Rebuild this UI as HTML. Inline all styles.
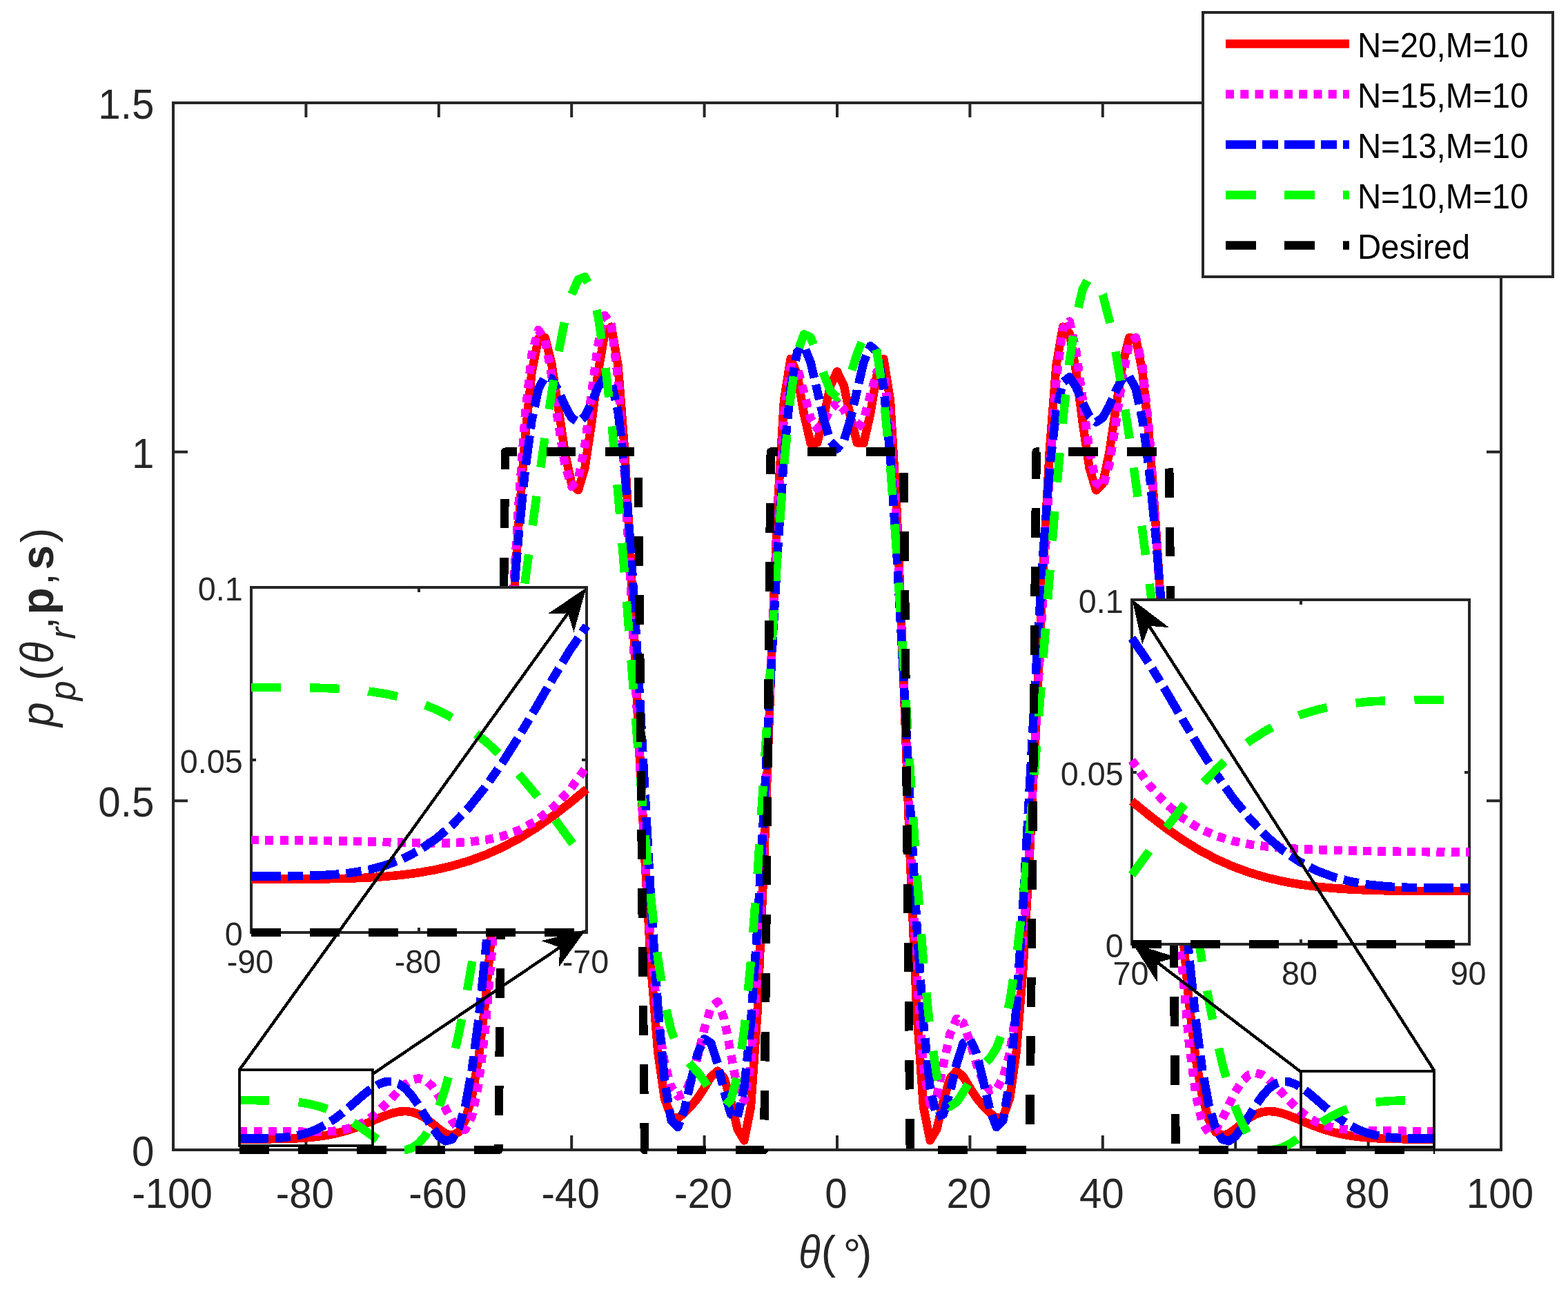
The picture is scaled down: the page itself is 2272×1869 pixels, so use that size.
<!DOCTYPE html>
<html lang="en"><head><meta charset="utf-8"><title>Beampattern comparison</title>
<style>html,body{margin:0;padding:0;background:#fff;overflow:hidden}svg{display:block}text{font-family:"Liberation Sans",Arial,Helvetica,sans-serif}</style></head><body>
<svg width="2272" height="1869" viewBox="0 0 2272 1869">
<rect x="0" y="0" width="2272" height="1869" fill="#ffffff"/>
<clipPath id="cm"><rect x="238.5" y="136.5" width="1949.0" height="1542.0"/></clipPath>
<g id="main-axes">
<path d="M251.00 1666.0 V1645.0 M251.00 149.0 V170.0 M443.40 1666.0 V1645.0 M443.40 149.0 V170.0 M635.80 1666.0 V1645.0 M635.80 149.0 V170.0 M828.20 1666.0 V1645.0 M828.20 149.0 V170.0 M1020.60 1666.0 V1645.0 M1020.60 149.0 V170.0 M1213.00 1666.0 V1645.0 M1213.00 149.0 V170.0 M1405.40 1666.0 V1645.0 M1405.40 149.0 V170.0 M1597.80 1666.0 V1645.0 M1597.80 149.0 V170.0 M1790.20 1666.0 V1645.0 M1790.20 149.0 V170.0 M1982.60 1666.0 V1645.0 M1982.60 149.0 V170.0 M2175.00 1666.0 V1645.0 M2175.00 149.0 V170.0 M251.0 1666.00 H272.0 M2175.0 1666.00 H2154.0 M251.0 1160.33 H272.0 M2175.0 1160.33 H2154.0 M251.0 654.67 H272.0 M2175.0 654.67 H2154.0 M251.0 149.00 H272.0 M2175.0 149.00 H2154.0" stroke="#262626" stroke-width="4" fill="none"/><rect x="251.0" y="149.0" width="1924.0" height="1517.0" fill="none" stroke="#262626" stroke-width="4"/>
<text transform="translate(249.50 1750.30) scale(1 1.045)" font-size="58.3" fill="#262626" text-anchor="middle">-100</text>
<text transform="translate(441.90 1750.30) scale(1 1.045)" font-size="58.3" fill="#262626" text-anchor="middle">-80</text>
<text transform="translate(634.30 1750.30) scale(1 1.045)" font-size="58.3" fill="#262626" text-anchor="middle">-60</text>
<text transform="translate(826.70 1750.30) scale(1 1.045)" font-size="58.3" fill="#262626" text-anchor="middle">-40</text>
<text transform="translate(1019.10 1750.30) scale(1 1.045)" font-size="58.3" fill="#262626" text-anchor="middle">-20</text>
<text transform="translate(1211.50 1750.30) scale(1 1.045)" font-size="58.3" fill="#262626" text-anchor="middle">0</text>
<text transform="translate(1403.90 1750.30) scale(1 1.045)" font-size="58.3" fill="#262626" text-anchor="middle">20</text>
<text transform="translate(1596.30 1750.30) scale(1 1.045)" font-size="58.3" fill="#262626" text-anchor="middle">40</text>
<text transform="translate(1788.70 1750.30) scale(1 1.045)" font-size="58.3" fill="#262626" text-anchor="middle">60</text>
<text transform="translate(1981.10 1750.30) scale(1 1.045)" font-size="58.3" fill="#262626" text-anchor="middle">80</text>
<text transform="translate(2173.50 1750.30) scale(1 1.045)" font-size="58.3" fill="#262626" text-anchor="middle">100</text>
<text transform="translate(223.30 1688.90) scale(1 1.045)" font-size="58.3" fill="#262626" text-anchor="end">0</text>
<text transform="translate(223.30 1183.23) scale(1 1.045)" font-size="58.3" fill="#262626" text-anchor="end">0.5</text>
<text transform="translate(223.30 677.57) scale(1 1.045)" font-size="58.3" fill="#262626" text-anchor="end">1</text>
<text transform="translate(223.30 171.90) scale(1 1.045)" font-size="58.3" fill="#262626" text-anchor="end">1.5</text>
</g>
<g id="main-curves" clip-path="url(#cm)" shape-rendering="crispEdges">
<polyline points="347.20,1650.37 356.82,1650.37 366.44,1650.37 376.06,1650.36 385.68,1650.32 395.30,1650.25 404.92,1650.12 414.54,1649.91 424.16,1649.59 433.78,1649.12 443.40,1648.47 453.02,1647.60 462.64,1646.46 472.26,1645.00 481.88,1643.20 491.50,1640.99 501.12,1638.37 510.74,1635.31 520.36,1631.85 529.98,1628.04 539.60,1624.00 549.22,1619.93 558.84,1616.11 568.46,1612.88 578.08,1610.68 587.70,1609.98 597.32,1611.18 606.94,1614.58 616.56,1620.18 626.18,1627.53 635.80,1635.53 645.42,1642.30 655.04,1645.03 664.66,1640.01 674.28,1622.79 683.90,1588.58 693.52,1532.89 703.14,1452.39 712.76,1345.98 722.38,1215.74 732.00,1067.70 741.62,912.00 751.24,762.17 760.86,633.39 770.48,539.71 780.10,490.84 789.72,489.07 799.34,527.47 808.96,590.19 818.58,655.50 828.20,701.05 837.82,710.31 847.44,678.18 857.06,613.75 866.68,538.95 876.30,482.91 885.92,473.62 895.54,529.44 905.16,653.20 914.78,831.00 924.40,1036.07 934.02,1236.56 943.64,1404.58 953.26,1523.52 962.88,1591.25 972.50,1618.03 982.12,1620.18 991.74,1612.40 1001.36,1602.46 1010.98,1590.95 1020.60,1576.06 1030.22,1559.96 1039.84,1551.57 1049.46,1562.18 1059.08,1595.15 1068.70,1636.17 1078.32,1652.32 1087.94,1603.97 1097.56,1465.57 1107.18,1243.82 1116.80,981.42 1126.42,741.55 1136.04,580.03 1145.66,519.84 1155.28,542.34 1164.90,599.83 1174.52,642.00 1184.14,641.27 1193.76,603.28 1203.38,558.08 1213.00,538.40 1222.62,558.08 1232.24,603.28 1241.86,641.27 1251.48,642.00 1261.10,599.83 1270.72,542.34 1280.34,519.84 1289.96,580.03 1299.58,741.55 1309.20,981.42 1318.82,1243.82 1328.44,1465.57 1338.06,1603.97 1347.68,1652.32 1357.30,1636.17 1366.92,1595.15 1376.54,1562.18 1386.16,1551.57 1395.78,1559.96 1405.40,1576.06 1415.02,1590.95 1424.64,1602.46 1434.26,1612.40 1443.88,1620.18 1453.50,1618.03 1463.12,1591.25 1472.74,1523.52 1482.36,1404.58 1491.98,1236.56 1501.60,1036.07 1511.22,831.00 1520.84,653.20 1530.46,529.44 1540.08,473.62 1549.70,482.91 1559.32,538.95 1568.94,613.75 1578.56,678.18 1588.18,710.31 1597.80,701.05 1607.42,655.50 1617.04,590.19 1626.66,527.47 1636.28,489.07 1645.90,490.84 1655.52,539.71 1665.14,633.39 1674.76,762.17 1684.38,912.00 1694.00,1067.70 1703.62,1215.74 1713.24,1345.98 1722.86,1452.39 1732.48,1532.89 1742.10,1588.58 1751.72,1622.79 1761.34,1640.01 1770.96,1645.03 1780.58,1642.30 1790.20,1635.53 1799.82,1627.53 1809.44,1620.18 1819.06,1614.58 1828.68,1611.18 1838.30,1609.98 1847.92,1610.68 1857.54,1612.88 1867.16,1616.11 1876.78,1619.93 1886.40,1624.00 1896.02,1628.04 1905.64,1631.85 1915.26,1635.31 1924.88,1638.37 1934.50,1640.99 1944.12,1643.20 1953.74,1645.00 1963.36,1646.46 1972.98,1647.60 1982.60,1648.47 1992.22,1649.12 2001.84,1649.59 2011.46,1649.91 2021.08,1650.12 2030.70,1650.25 2040.32,1650.32 2049.94,1650.36 2059.56,1650.37 2069.18,1650.37 2078.80,1650.37" fill="none" stroke="#ff0000" stroke-width="12.5" stroke-linejoin="round" stroke-linecap="butt"/>
<path d="M347.2 1638.9 L356.8 1639.0 L358.2 1639.0 M367.6 1639.0 L376.1 1639.0 L379.6 1639.0 M388.9 1639.1 L395.3 1639.2 L401.0 1639.2 M410.3 1639.3 L414.5 1639.4 L422.4 1639.5 M431.8 1639.6 L433.8 1639.7 L443.4 1639.8 L444.0 1639.8 M453.4 1639.8 L462.6 1639.7 L465.5 1639.7 M474.9 1639.3 L481.9 1638.9 L487.0 1638.3 M496.3 1636.9 L501.1 1636.0 L508.0 1634.0 M516.9 1630.8 L520.4 1629.4 L527.7 1625.4 M535.5 1620.3 L539.6 1617.5 L545.1 1612.8 M552.0 1606.6 L558.8 1599.9 L560.6 1598.1 M567.1 1591.3 L568.5 1589.8 L575.4 1582.5 M582.2 1576.0 L587.7 1570.9 L591.5 1568.4 M599.7 1564.0 L606.9 1562.3 L611.4 1563.6 M619.6 1567.8 L626.2 1573.8 L628.0 1576.4 M633.2 1584.2 L635.8 1587.9 L639.4 1594.5 M643.8 1602.7 L645.4 1605.7 L649.5 1613.4 M653.9 1621.6 L655.0 1623.6 L661.0 1631.4 M668.0 1636.3 L674.3 1636.6 L676.8 1631.4 M681.0 1623.0 L683.9 1617.1 L685.0 1611.8 M686.9 1602.7 L689.3 1590.9 M691.2 1581.8 L693.5 1570.3 L693.6 1570.0 M694.7 1560.8 L696.1 1548.8 M697.3 1539.6 L698.7 1527.7 M699.8 1518.5 L701.3 1506.5 M702.4 1497.3 L703.1 1491.2 L703.6 1485.4 M704.4 1476.1 L705.4 1464.1 M706.2 1454.9 L707.2 1442.9 M708.0 1433.6 L709.0 1421.7 M709.8 1412.4 L710.8 1400.5 M711.6 1391.2 L712.6 1379.2 M713.3 1370.0 L714.1 1358.0 M714.7 1348.7 L715.5 1336.7 M716.1 1327.5 L716.9 1315.5 M717.5 1306.2 L718.3 1294.2 M719.0 1285.0 L719.8 1273.0 M720.4 1263.7 L721.2 1251.7 M721.8 1242.5 L722.4 1233.9 L722.6 1230.5 M723.1 1221.2 L723.8 1209.2 M724.4 1199.9 L725.0 1188.0 M725.6 1178.7 L726.3 1166.7 M726.8 1157.4 L727.5 1145.4 M728.1 1136.2 L728.8 1124.2 M729.3 1114.9 L730.0 1102.9 M730.5 1093.7 L731.2 1081.7 M731.8 1072.4 L732.0 1068.4 L732.4 1060.4 M733.0 1051.1 L733.6 1039.1 M734.1 1029.9 L734.8 1017.9 M735.3 1008.6 L736.0 996.6 M736.5 987.4 L737.2 975.4 M737.7 966.1 L738.4 954.1 M738.9 944.8 L739.6 932.8 M740.1 923.6 L740.7 911.6 M741.3 902.3 L741.6 895.8 L741.9 890.3 M742.5 881.0 L743.2 869.1 M743.8 859.8 L744.5 847.8 M745.0 838.5 L745.7 826.5 M746.3 817.3 L747.0 805.3 M747.6 796.0 L748.3 784.0 M748.8 774.8 L749.5 762.8 M750.1 753.5 L750.8 741.5 M751.4 732.2 L752.2 720.3 M752.9 711.0 L753.8 699.0 M754.5 689.8 L755.3 677.8 M756.0 668.5 L756.9 656.5 M757.6 647.3 L758.4 635.3 M759.1 626.0 L760.0 614.1 M760.6 604.8 L760.9 601.8 L761.8 592.9 M762.8 583.7 L764.1 571.8 M765.2 562.5 L766.5 550.6 M767.5 541.4 L768.8 529.5 M769.8 520.3 L770.5 513.8 L771.8 508.8 M774.1 500.2 L777.1 489.1 M779.4 480.5 L780.1 478.1 L785.2 485.6 M789.9 493.2 L792.1 505.1 M793.8 514.2 L796.0 526.0 M797.7 535.2 L799.3 544.2 L799.7 547.0 M801.0 556.2 L802.7 568.1 M804.0 577.2 L805.6 589.1 M806.9 598.3 L808.6 610.1 M810.0 619.3 L811.9 631.1 M813.3 640.2 L815.2 652.1 M816.6 661.2 L818.5 673.0 M821.1 681.9 L824.6 693.3 M827.3 702.1 L828.2 705.0 L834.4 698.7 M838.6 690.9 L840.9 679.2 M842.6 670.1 L844.9 658.4 M846.6 649.3 L847.4 645.2 L848.4 637.4 M849.6 628.3 L851.2 616.4 M852.4 607.2 L853.9 595.3 M855.1 586.1 L856.6 574.3 M857.8 565.1 L859.4 553.2 M860.6 544.1 L862.2 532.2 M863.4 523.1 L865.0 511.2 M866.2 502.1 L866.7 498.4 L868.5 490.4 M870.6 481.5 L873.3 469.9 M875.4 460.9 L876.3 457.0 L880.6 463.0 M885.6 470.0 L885.9 470.5 L887.3 481.5 M888.4 490.6 L889.8 502.2 M890.9 511.3 L892.3 523.0 M893.4 532.0 L894.8 543.7 M895.8 552.8 L896.6 564.8 M897.2 574.0 L898.1 586.0 M898.7 595.3 L899.5 607.3 M900.2 616.5 L901.0 628.5 M901.6 637.8 L902.5 649.7 M903.1 659.0 L903.9 671.0 M904.6 680.3 L905.2 688.7 L905.3 692.2 M905.8 701.5 L906.5 713.5 M907.0 722.8 L907.6 734.8 M908.1 744.0 L908.8 756.0 M909.3 765.3 L909.9 777.3 M910.4 786.6 L911.1 798.6 M911.6 807.8 L912.2 819.8 M912.7 829.1 L913.4 841.1 M913.8 850.3 L914.5 862.3 M915.0 871.6 L915.6 883.6 M916.1 892.9 L916.7 904.9 M917.1 914.1 L917.7 926.1 M918.2 935.4 L918.8 947.4 M919.3 956.7 L919.9 968.7 M920.3 977.9 L920.9 989.9 M921.4 999.2 L922.0 1011.2 M922.5 1020.5 L923.1 1032.5 M923.6 1041.7 L924.2 1053.7 M924.6 1063.0 L925.3 1075.0 M925.8 1084.3 L926.5 1096.2 M927.0 1105.5 L927.6 1117.5 M928.1 1126.8 L928.8 1138.8 M929.3 1148.0 L930.0 1160.0 M930.5 1169.3 L931.1 1181.3 M931.6 1190.6 L932.3 1202.5 M932.8 1211.8 L933.5 1223.8 M934.0 1233.1 L934.0 1234.1 L934.8 1245.1 M935.4 1254.3 L936.2 1266.3 M936.8 1275.6 L937.6 1287.6 M938.3 1296.8 L939.1 1308.8 M939.7 1318.1 L940.5 1330.0 M941.2 1339.3 L942.0 1351.3 M942.6 1360.6 L943.4 1372.5 M944.2 1381.8 L945.4 1393.8 M946.2 1403.0 L947.4 1415.0 M948.3 1424.2 L949.4 1436.2 M950.3 1445.4 L951.4 1457.4 M952.3 1466.6 L953.3 1476.7 L953.5 1478.6 M954.9 1487.7 L956.7 1499.5 M958.1 1508.6 L959.9 1520.4 M961.3 1529.5 L962.9 1540.2 L963.2 1541.3 M965.6 1549.9 L968.7 1561.2 M971.1 1569.9 L972.5 1574.8 L975.9 1579.6 M980.6 1586.1 L982.1 1588.3 L990.1 1585.2 M995.0 1577.8 L1000.2 1566.9 M1003.2 1558.1 L1006.5 1546.5 M1009.0 1537.6 L1011.0 1530.7 L1012.1 1525.9 M1014.3 1516.8 L1017.2 1505.0 M1019.3 1495.9 L1020.6 1490.7 L1022.6 1484.2 M1025.4 1475.1 L1028.9 1463.3 M1034.3 1455.8 L1039.8 1451.4 L1041.8 1456.6 M1045.3 1465.5 L1049.5 1476.3 L1049.6 1477.0 M1051.4 1486.3 L1053.7 1498.3 M1055.4 1507.6 L1057.7 1519.6 M1059.5 1528.9 L1061.7 1540.9 M1063.4 1550.2 L1065.7 1562.2 M1067.4 1571.5 L1068.7 1578.4 L1071.2 1582.7 M1075.7 1590.5 L1078.3 1595.0 L1079.5 1588.5 M1081.2 1579.4 L1083.4 1567.7 M1085.1 1558.6 L1087.3 1546.8 M1088.3 1537.6 L1089.2 1525.6 M1089.9 1516.4 L1090.7 1504.4 M1091.4 1495.1 L1092.2 1483.1 M1092.9 1473.8 L1093.8 1461.9 M1094.4 1452.6 L1095.3 1440.6 M1095.9 1431.3 L1096.8 1419.3 M1097.5 1410.1 L1097.6 1408.5 L1098.1 1398.1 M1098.5 1388.8 L1099.1 1376.8 M1099.5 1367.5 L1100.1 1355.5 M1100.5 1346.2 L1101.1 1334.2 M1101.5 1325.0 L1102.1 1313.0 M1102.5 1303.7 L1103.1 1291.7 M1103.5 1282.4 L1104.1 1270.4 M1104.5 1261.1 L1105.1 1249.1 M1105.5 1239.8 L1106.1 1227.8 M1106.5 1218.6 L1107.1 1206.6 M1107.5 1197.3 L1107.9 1185.3 M1108.3 1176.0 L1108.8 1164.0 M1109.2 1154.7 L1109.7 1142.7 M1110.1 1133.4 L1110.6 1121.4 M1110.9 1112.1 L1111.4 1100.1 M1111.8 1090.9 L1112.3 1078.9 M1112.7 1069.6 L1113.2 1057.6 M1113.5 1048.3 L1114.0 1036.3 M1114.4 1027.0 L1114.9 1015.0 M1115.3 1005.7 L1115.8 993.7 M1116.2 984.5 L1116.6 972.5 M1117.1 963.2 L1117.6 951.2 M1118.0 941.9 L1118.5 929.9 M1119.0 920.6 L1119.5 908.6 M1119.9 899.3 L1120.4 887.3 M1120.9 878.1 L1121.4 866.1 M1121.8 856.8 L1122.3 844.8 M1122.8 835.5 L1123.3 823.5 M1123.7 814.2 L1124.3 802.2 M1124.7 792.9 L1125.2 780.9 M1125.6 771.7 L1126.2 759.7 M1126.6 750.4 L1127.4 738.4 M1128.0 729.1 L1128.7 717.1 M1129.3 707.8 L1130.1 695.8 M1130.7 686.6 L1131.4 674.6 M1132.0 665.3 L1132.8 653.3 M1133.4 644.0 L1134.1 632.0 M1134.7 622.8 L1135.5 610.8 M1136.1 601.5 L1137.8 589.6 M1139.0 580.4 L1140.7 568.4 M1141.9 559.2 L1143.6 547.3 M1144.8 538.1 L1145.7 531.9 L1151.6 531.8 M1156.7 537.3 L1159.8 549.0 M1162.2 558.1 L1164.9 568.6 L1165.2 569.8 M1167.6 578.9 L1170.6 590.7 M1172.9 599.8 L1174.5 606.0 L1177.1 610.0 M1181.3 616.5 L1184.1 620.8 L1188.6 616.5 M1194.9 609.1 L1200.7 597.9 M1206.1 590.3 L1213.0 583.9 L1214.3 585.1 M1219.4 589.9 L1222.6 592.9 L1225.4 598.3 M1229.6 606.5 L1232.2 611.7 L1236.5 616.1 M1242.7 620.6 L1249.6 610.8 M1253.1 602.3 L1256.2 590.7 M1258.6 581.8 L1261.1 572.6 L1261.8 570.3 M1264.2 561.5 L1267.4 550.2 M1269.8 541.5 L1270.7 538.2 L1278.3 540.2 M1281.3 547.6 L1282.8 559.4 M1284.1 568.5 L1285.6 580.2 M1286.9 589.3 L1288.4 601.1 M1289.7 610.2 L1290.0 612.4 L1290.6 622.1 M1291.2 631.3 L1291.9 643.2 M1292.5 652.4 L1293.3 664.3 M1293.8 673.5 L1294.6 685.4 M1295.2 694.7 L1295.9 706.6 M1296.5 715.8 L1297.3 727.7 M1297.9 736.9 L1298.6 748.8 M1299.2 758.0 L1299.6 763.8 L1299.9 770.0 M1300.3 779.2 L1300.8 791.1 M1301.2 800.4 L1301.8 812.3 M1302.2 821.5 L1302.7 833.5 M1303.1 842.7 L1303.7 854.7 M1304.1 863.9 L1304.6 875.8 M1305.1 885.1 L1305.6 897.0 M1306.0 906.3 L1306.5 918.2 M1307.0 927.4 L1307.5 939.4 M1307.9 948.6 L1308.5 960.6 M1308.9 969.8 L1309.2 976.9 L1309.4 981.7 M1309.8 991.0 L1310.3 1002.9 M1310.7 1012.2 L1311.2 1024.1 M1311.5 1033.4 L1312.0 1045.3 M1312.4 1054.5 L1312.9 1066.5 M1313.3 1075.7 L1313.8 1087.7 M1314.2 1096.9 L1314.7 1108.9 M1315.0 1118.1 L1315.5 1130.1 M1315.9 1139.3 L1316.4 1151.2 M1316.8 1160.5 L1317.3 1172.4 M1317.7 1181.7 L1318.2 1193.6 M1318.6 1202.9 L1318.8 1209.3 L1319.1 1214.8 M1319.5 1224.0 L1320.1 1236.0 M1320.5 1245.2 L1321.1 1257.1 M1321.5 1266.4 L1322.1 1278.3 M1322.5 1287.6 L1323.1 1299.5 M1323.5 1308.7 L1324.1 1320.7 M1324.6 1329.9 L1325.1 1341.8 M1325.6 1351.1 L1326.1 1363.0 M1326.6 1372.2 L1327.1 1384.2 M1327.6 1393.4 L1328.1 1405.3 M1328.7 1414.6 L1329.5 1426.6 M1330.2 1435.9 L1331.0 1447.9 M1331.7 1457.1 L1332.6 1469.1 M1333.2 1478.4 L1334.1 1490.4 M1334.8 1499.7 L1335.6 1511.7 M1336.3 1521.0 L1337.1 1533.0 M1337.8 1542.3 L1338.1 1545.9 L1339.7 1554.9 M1341.4 1564.9 L1343.8 1577.9 M1345.5 1587.9 L1347.7 1600.0 L1348.5 1599.0 M1357.2 1588.5 L1357.3 1588.4 L1359.8 1576.6 M1361.7 1567.4 L1364.3 1555.5 M1366.2 1546.3 L1366.9 1543.0 L1368.7 1534.5 M1370.7 1525.4 L1373.2 1513.7 M1375.1 1504.6 L1376.5 1497.9 L1378.7 1493.1 M1382.4 1484.4 L1386.2 1475.8 L1387.6 1476.8 M1392.6 1480.2 L1395.8 1482.4 L1397.7 1487.8 M1400.6 1496.0 L1404.5 1506.7 M1407.2 1515.3 L1410.6 1526.8 M1413.2 1535.7 L1415.0 1541.7 L1417.0 1547.0 M1420.3 1555.7 L1424.5 1566.9 M1430.0 1574.2 L1434.3 1579.7 L1438.2 1579.0 M1444.9 1576.4 L1450.6 1566.4 M1454.4 1558.3 L1457.5 1546.6 M1460.0 1537.6 L1463.1 1525.9 M1464.5 1516.7 L1466.3 1504.9 M1467.7 1495.7 L1469.5 1483.8 M1470.9 1474.6 L1472.7 1462.8 L1472.7 1462.8 M1473.6 1453.5 L1474.8 1441.6 M1475.7 1432.4 L1476.8 1420.5 M1477.7 1411.2 L1478.9 1399.3 M1479.8 1390.1 L1480.9 1378.1 M1481.8 1368.9 L1482.4 1363.0 L1482.8 1357.0 M1483.4 1347.7 L1484.2 1335.8 M1484.9 1326.5 L1485.7 1314.5 M1486.3 1305.3 L1487.1 1293.3 M1487.8 1284.1 L1488.6 1272.1 M1489.2 1262.9 L1490.1 1250.9 M1490.7 1241.7 L1491.5 1229.7 M1492.1 1220.4 L1492.8 1208.5 M1493.3 1199.2 L1494.0 1187.2 M1494.5 1178.0 L1495.1 1166.0 M1495.7 1156.7 L1496.3 1144.8 M1496.8 1135.5 L1497.5 1123.5 M1498.0 1114.3 L1498.7 1102.3 M1499.2 1093.0 L1499.8 1081.1 M1500.4 1071.8 L1501.0 1059.8 M1501.5 1050.6 L1501.6 1049.4 L1502.2 1038.6 M1502.6 1029.3 L1503.2 1017.4 M1503.7 1008.1 L1504.3 996.1 M1504.8 986.9 L1505.4 974.9 M1505.9 965.6 L1506.5 953.6 M1507.0 944.4 L1507.6 932.4 M1508.1 923.1 L1508.7 911.2 M1509.1 901.9 L1509.8 889.9 M1510.2 880.7 L1510.8 868.7 M1511.3 859.4 L1512.0 847.4 M1512.5 838.2 L1513.2 826.2 M1513.7 816.9 L1514.3 805.0 M1514.8 795.7 L1515.5 783.7 M1516.0 774.5 L1516.6 762.5 M1517.2 753.2 L1517.8 741.3 M1518.3 732.0 L1519.0 720.0 M1519.5 710.8 L1520.1 698.8 M1520.7 689.5 L1520.8 686.1 L1521.4 677.6 M1522.1 668.3 L1523.0 656.4 M1523.6 647.1 L1524.5 635.2 M1525.1 625.9 L1526.0 614.0 M1526.6 604.7 L1527.5 592.7 M1528.2 583.5 L1529.0 571.5 M1529.7 562.3 L1530.5 551.1 L1530.6 550.4 M1531.7 541.4 L1533.2 529.9 M1534.3 521.0 L1535.8 509.5 M1536.9 500.6 L1538.4 489.0 M1539.6 480.1 L1540.1 476.0 L1544.2 471.6 M1549.1 466.3 L1549.7 465.6 L1552.0 476.0 M1554.0 484.9 L1556.6 496.4 M1558.6 505.3 L1559.3 508.6 L1560.5 517.1 M1561.7 526.3 L1563.3 538.2 M1564.5 547.4 L1566.1 559.2 M1567.3 568.4 L1568.9 580.3 M1570.1 589.6 L1571.7 601.5 M1573.0 610.8 L1574.5 622.8 M1575.8 632.0 L1577.4 644.0 M1578.6 653.2 L1581.1 665.1 M1582.9 674.2 L1585.4 686.1 M1587.3 695.2 L1588.2 699.7 L1594.5 704.1 M1599.3 701.1 L1602.7 689.5 M1605.2 680.5 L1607.4 672.8 L1608.1 668.7 M1609.5 659.5 L1611.4 647.5 M1612.9 638.3 L1614.7 626.4 M1616.2 617.2 L1617.0 611.8 L1618.0 605.2 M1619.3 596.0 L1621.1 584.0 M1622.4 574.8 L1624.1 562.8 M1625.5 553.6 L1626.7 545.4 L1627.4 541.7 M1629.2 532.6 L1631.6 520.9 M1633.4 511.8 L1635.8 500.1 M1641.1 493.4 L1645.9 489.1 L1647.2 494.8 M1649.6 505.1 L1652.6 518.3 M1654.9 528.5 L1655.5 531.1 L1656.5 540.7 M1657.5 550.0 L1658.7 562.0 M1659.6 571.2 L1660.9 583.2 M1661.8 592.5 L1663.1 604.5 M1664.0 613.7 L1665.1 624.8 L1665.2 625.7 M1665.9 635.0 L1666.7 646.9 M1667.3 656.2 L1668.2 668.2 M1668.8 677.4 L1669.7 689.4 M1670.3 698.7 L1671.2 710.6 M1671.8 719.9 L1672.7 731.9 M1673.3 741.1 L1674.2 753.1 M1674.8 762.3 L1675.5 774.3 M1676.1 783.6 L1676.8 795.6 M1677.3 804.8 L1678.0 816.8 M1678.5 826.1 L1679.2 838.0 M1679.8 847.3 L1680.5 859.3 M1681.0 868.6 L1681.7 880.5 M1682.3 889.8 L1683.0 901.8 M1683.5 911.0 L1684.2 923.0 M1684.7 932.3 L1685.4 944.3 M1685.9 953.5 L1686.6 965.5 M1687.1 974.8 L1687.8 986.8 M1688.3 996.0 L1689.0 1008.0 M1689.5 1017.3 L1690.1 1029.3 M1690.7 1038.5 L1691.3 1050.5 M1691.8 1059.8 L1692.5 1071.8 M1693.0 1081.0 L1693.7 1093.0 M1694.2 1102.3 L1694.9 1114.2 M1695.5 1123.5 L1696.2 1135.5 M1696.7 1144.8 L1697.4 1156.7 M1698.0 1166.0 L1698.7 1178.0 M1699.2 1187.2 L1699.9 1199.2 M1700.5 1208.5 L1701.2 1220.5 M1701.7 1229.7 L1702.4 1241.7 M1703.0 1251.0 L1703.6 1262.2 L1703.7 1262.9 M1704.3 1272.2 L1705.1 1284.2 M1705.8 1293.4 L1706.6 1305.4 M1707.2 1314.7 L1708.0 1326.6 M1708.7 1335.9 L1709.5 1347.9 M1710.1 1357.1 L1710.9 1369.1 M1711.6 1378.4 L1712.4 1390.3 M1713.0 1399.6 L1713.2 1402.7 L1714.0 1411.5 M1714.8 1420.8 L1715.9 1432.7 M1716.7 1442.0 L1717.8 1453.9 M1718.6 1463.2 L1719.7 1475.1 M1720.5 1484.4 L1721.5 1496.3 M1722.4 1505.6 L1722.9 1511.3 L1723.7 1517.5 M1724.9 1526.7 L1726.4 1538.6 M1727.6 1547.8 L1729.2 1559.7 M1730.4 1568.9 L1731.9 1580.8 M1733.6 1589.9 L1736.3 1601.6 M1738.4 1610.7 L1741.1 1622.3 M1744.7 1630.7 L1751.3 1640.8 M1759.4 1637.8 L1761.3 1636.9 L1766.5 1628.5 M1771.2 1620.5 L1776.4 1609.7 M1780.4 1601.3 L1780.6 1600.9 L1785.7 1590.6 M1789.8 1582.2 L1790.2 1581.5 L1796.2 1572.1 M1801.7 1564.7 L1809.4 1557.4 L1810.8 1557.0 M1819.7 1554.6 L1828.7 1557.0 L1830.9 1558.5 M1838.5 1563.8 L1847.2 1572.1 M1853.5 1578.9 L1857.5 1583.2 L1861.6 1587.7 M1867.9 1594.5 L1876.3 1603.1 M1883.3 1609.2 L1886.4 1612.0 L1892.7 1616.6 M1900.5 1621.7 L1905.6 1624.7 L1911.2 1627.1 M1919.8 1630.4 L1924.9 1632.0 L1931.4 1633.5 M1940.5 1635.1 L1944.1 1635.7 L1952.4 1636.6 M1961.7 1637.2 L1963.4 1637.3 L1973.0 1637.8 L1973.7 1637.8 M1983.0 1638.1 L1992.2 1638.3 L1995.0 1638.3 M2004.2 1638.4 L2011.5 1638.5 L2016.3 1638.6 M2025.6 1638.7 L2030.7 1638.7 L2037.6 1638.8 M2046.9 1638.8 L2049.9 1638.9 L2058.9 1638.9 M2068.2 1638.9 L2069.2 1638.9 L2078.8 1638.9" fill="none" stroke="#ff00ff" stroke-width="12.5" stroke-linejoin="round" stroke-linecap="butt"/>
<path d="M347.2 1649.5 L356.8 1649.5 L366.4 1649.5 L376.1 1649.4 L385.7 1649.3 L389.2 1649.2 M399.0 1648.8 L404.9 1648.5 L414.5 1647.6 L420.8 1646.8 M430.5 1645.1 L433.8 1644.5 L443.4 1642.0 L453.0 1638.6 L462.6 1634.4 L470.4 1630.3 M478.9 1625.0 L481.9 1623.1 L491.5 1616.1 L496.8 1611.8 M504.5 1605.4 L510.7 1599.9 L520.4 1591.5 L530.0 1583.3 L537.3 1577.9 M545.7 1572.6 L549.2 1570.6 L558.8 1567.3 L566.9 1567.1 M576.5 1569.8 L578.1 1570.3 L587.7 1577.4 L597.3 1588.2 L605.7 1600.3 M611.0 1608.7 L616.6 1617.8 L622.7 1627.7 M628.2 1636.1 L635.8 1646.4 L645.4 1653.3 L655.0 1650.6 L659.2 1643.6 M664.4 1635.1 L664.7 1634.6 L670.8 1613.7 M673.6 1604.1 L674.3 1601.7 L681.6 1562.1 M683.4 1552.3 L683.9 1549.4 L686.4 1530.3 M687.7 1520.3 L693.3 1477.9 M694.4 1468.0 L696.7 1445.9 M697.7 1435.9 L702.1 1393.4 M703.1 1383.4 L705.1 1361.3 M705.9 1351.3 L709.7 1308.7 M710.5 1298.7 L712.4 1276.6 M713.3 1266.6 L716.6 1224.0 M717.4 1214.0 L719.1 1191.8 M719.9 1181.8 L722.4 1149.9 L723.2 1139.2 M723.9 1129.2 L725.6 1107.0 M726.3 1097.1 L729.5 1054.4 M730.3 1044.5 L731.9 1022.3 M732.7 1012.3 L735.9 969.7 M736.7 959.7 L738.4 937.5 M739.1 927.5 L741.6 894.5 L742.4 884.9 M743.3 874.9 L745.1 852.7 M745.9 842.8 L749.5 800.2 M750.3 790.2 L751.2 778.8 L752.3 768.0 M753.3 758.1 L757.5 715.5 M758.5 705.6 L760.7 683.4 M762.0 673.5 L767.6 631.1 M768.9 621.2 L770.5 609.2 L772.6 599.3 M774.7 589.5 L780.1 564.0 L787.8 549.1 M795.2 547.1 L799.3 548.4 L808.0 564.1 M812.2 573.3 L818.6 587.8 L828.2 605.4 L834.9 609.6 M843.2 607.0 L847.4 603.4 L855.0 588.1 M859.1 578.9 L866.7 560.8 L876.3 546.2 L881.2 550.1 M886.8 557.9 L891.8 579.7 M894.0 589.5 L895.5 596.1 L899.7 632.0 M900.8 642.0 L903.4 664.1 M904.5 674.1 L905.2 679.9 L908.0 716.8 M908.8 726.8 L910.5 749.0 M911.2 759.0 L914.5 801.7 M915.2 811.7 L916.5 834.0 M917.1 844.0 L919.7 886.7 M920.3 896.7 L921.7 918.9 M922.3 928.9 L924.4 963.7 L924.8 971.7 M925.4 981.7 L926.6 1003.9 M927.2 1013.9 L929.5 1056.7 M930.0 1066.7 L931.3 1088.9 M931.8 1098.9 L934.0 1139.2 L934.2 1141.7 M934.7 1151.7 L936.0 1173.9 M936.5 1183.9 L938.9 1226.7 M939.5 1236.7 L940.7 1258.9 M941.3 1268.9 L943.6 1311.2 L943.7 1311.7 M944.3 1321.6 L945.8 1343.9 M946.4 1353.9 L949.2 1396.6 M949.9 1406.6 L951.3 1428.9 M952.0 1438.8 L953.3 1458.8 L955.3 1481.5 M956.2 1491.5 L958.2 1513.6 M959.1 1523.6 L962.9 1565.4 L963.0 1566.1 M964.6 1575.9 L968.3 1597.6 M969.9 1607.4 L972.5 1622.9 L982.1 1633.1 L985.3 1624.7 M988.6 1616.1 L991.7 1607.9 L994.5 1595.7 M996.7 1586.0 L1001.4 1565.4 L1006.3 1544.9 M1008.7 1535.3 L1011.0 1525.8 L1016.2 1514.6 M1020.4 1505.6 L1020.6 1505.1 L1030.2 1511.2 L1039.7 1540.5 M1042.0 1550.3 L1047.1 1571.9 M1049.4 1581.7 L1049.5 1582.0 L1059.1 1614.5 L1062.0 1615.5 M1068.7 1617.9 L1073.3 1597.9 M1075.4 1588.9 L1078.3 1576.2 L1081.2 1547.8 M1082.3 1537.9 L1084.5 1515.8 M1085.5 1505.9 L1087.9 1482.6 L1089.2 1463.4 M1089.9 1453.4 L1091.4 1431.3 M1092.1 1421.3 L1095.0 1378.8 M1095.7 1368.8 L1097.2 1346.6 M1097.8 1336.7 L1100.2 1294.1 M1100.7 1284.1 L1101.9 1261.9 M1102.5 1251.9 L1104.8 1209.3 M1105.4 1199.3 L1106.6 1177.2 M1107.1 1167.2 L1107.2 1166.5 L1109.3 1124.6 M1109.9 1114.6 L1111.0 1092.4 M1111.5 1082.4 L1113.7 1039.8 M1114.2 1029.8 L1115.4 1007.6 M1115.9 997.7 L1116.8 980.0 L1118.2 955.0 M1118.7 945.1 L1119.9 922.9 M1120.5 912.9 L1122.8 870.3 M1123.4 860.3 L1124.6 838.1 M1125.1 828.2 L1126.4 804.7 L1127.7 785.6 M1128.4 775.6 L1129.8 753.5 M1130.5 743.5 L1133.4 700.9 M1134.0 691.0 L1135.5 668.8 M1136.2 658.8 L1140.3 616.4 M1141.3 606.5 L1143.4 584.4 M1144.4 574.5 L1145.7 561.0 L1151.0 532.5 M1152.8 522.7 L1155.3 509.5 L1161.8 503.9 M1167.1 506.6 L1174.5 524.9 L1179.8 547.5 M1182.2 557.2 L1184.1 565.6 L1187.2 579.0 M1189.4 588.7 L1193.8 608.0 L1200.6 630.1 M1203.8 639.6 L1213.0 650.4 L1217.7 644.9 M1223.2 637.0 L1232.2 608.0 L1234.9 596.5 M1237.0 586.8 L1241.9 565.6 L1241.9 565.4 M1244.2 555.7 L1251.5 524.9 L1255.4 515.2 M1259.1 506.2 L1261.1 501.2 L1270.7 509.5 L1271.4 513.0 M1273.2 522.7 L1280.3 561.0 L1280.7 564.4 M1281.6 574.3 L1283.7 596.3 M1284.7 606.2 L1288.8 648.5 M1289.7 658.4 L1290.0 660.8 L1291.3 680.5 M1291.9 690.5 L1294.8 733.0 M1295.4 742.9 L1296.9 765.0 M1297.6 775.0 L1299.6 804.7 L1300.3 817.5 M1300.8 827.4 L1302.0 849.6 M1302.6 859.5 L1304.9 902.1 M1305.5 912.0 L1306.7 934.2 M1307.2 944.1 L1309.2 980.0 L1309.5 986.7 M1310.1 996.7 L1311.2 1018.8 M1311.7 1028.8 L1313.9 1071.3 M1314.4 1081.3 L1315.6 1103.5 M1316.1 1113.4 L1318.3 1156.0 M1318.8 1165.9 L1318.8 1166.5 L1320.0 1188.1 M1320.6 1198.0 L1322.9 1240.6 M1323.4 1250.6 L1324.7 1272.7 M1325.2 1282.7 L1327.6 1325.2 M1328.1 1335.2 L1328.4 1341.2 L1329.5 1357.3 M1330.2 1367.3 L1333.1 1409.8 M1333.8 1419.7 L1335.3 1441.9 M1336.0 1451.8 L1338.1 1482.6 L1339.3 1494.3 M1340.3 1504.1 L1342.5 1526.1 M1343.5 1536.0 L1347.7 1576.2 L1348.1 1578.1 M1350.3 1587.5 L1355.1 1608.5 M1357.3 1617.9 L1366.9 1614.5 L1374.9 1587.4 M1377.5 1578.1 L1382.5 1556.5 M1384.8 1546.7 L1386.2 1541.1 L1395.8 1511.2 L1399.0 1509.1 M1406.1 1506.6 L1415.0 1525.8 L1415.3 1526.8 M1417.6 1536.5 L1424.6 1565.4 L1427.3 1577.2 M1429.3 1586.2 L1433.9 1606.2 M1437.1 1615.2 L1443.9 1633.1 L1453.5 1622.9 L1455.0 1613.8 M1456.7 1603.9 L1460.4 1581.8 M1462.0 1571.9 L1463.1 1565.4 L1466.4 1529.2 M1467.3 1519.2 L1469.3 1497.0 M1470.2 1487.0 L1472.7 1458.8 L1473.7 1444.2 M1474.3 1434.2 L1475.8 1412.0 M1476.4 1402.0 L1479.2 1359.2 M1479.9 1349.2 L1481.3 1326.9 M1482.0 1316.9 L1482.4 1311.2 L1484.4 1274.2 M1485.0 1264.2 L1486.2 1241.9 M1486.8 1231.9 L1489.2 1189.1 M1489.7 1179.1 L1491.0 1156.9 M1491.6 1146.9 L1492.0 1139.2 L1493.9 1104.1 M1494.5 1094.1 L1495.7 1071.8 M1496.2 1061.8 L1498.6 1019.1 M1499.1 1009.1 L1500.3 986.8 M1500.9 976.8 L1501.6 963.7 L1503.4 934.0 M1504.0 924.0 L1505.4 901.8 M1506.0 891.8 L1508.6 849.0 M1509.2 839.0 L1510.5 816.8 M1511.1 806.8 L1511.2 805.3 L1514.4 764.0 M1515.2 754.0 L1516.9 731.8 M1517.6 721.8 L1520.8 679.9 L1520.9 679.0 M1522.1 669.1 L1524.6 646.9 M1525.8 636.9 L1530.5 596.1 L1530.9 594.3 M1533.1 584.5 L1538.1 562.6 M1541.0 553.2 L1549.7 546.2 L1559.3 560.8 L1565.1 574.6 M1569.0 584.0 L1578.6 603.4 L1579.3 604.0 M1587.2 610.6 L1588.2 611.5 L1597.8 605.4 L1607.4 587.8 L1611.8 577.8 M1615.8 568.5 L1617.0 565.8 L1626.6 548.6 M1636.3 545.3 L1645.9 564.0 L1650.5 585.8 M1652.6 595.6 L1655.5 609.2 L1656.6 617.6 M1658.0 627.6 L1663.6 670.2 M1664.9 680.1 L1665.1 681.8 L1667.2 702.3 M1668.2 712.3 L1672.4 755.0 M1673.4 765.0 L1674.8 778.8 L1675.5 787.2 M1676.3 797.2 L1679.8 839.9 M1680.7 849.9 L1682.5 872.2 M1683.4 882.2 L1684.4 894.5 L1686.7 924.9 M1687.4 934.9 L1689.1 957.1 M1689.9 967.1 L1693.1 1009.9 M1693.9 1019.9 L1694.0 1021.1 L1695.6 1042.1 M1696.3 1052.1 L1699.5 1094.9 M1700.3 1104.9 L1701.9 1127.1 M1702.7 1137.1 L1703.6 1149.9 L1706.0 1179.8 M1706.7 1189.8 L1708.5 1212.1 M1709.3 1222.1 L1712.6 1264.8 M1713.4 1274.8 L1715.3 1297.0 M1716.2 1307.0 L1719.9 1349.8 M1720.8 1359.8 L1722.7 1382.0 M1723.7 1392.0 L1728.2 1434.6 M1729.2 1444.6 L1731.5 1466.8 M1732.5 1476.8 L1738.1 1519.4 M1739.5 1529.4 L1742.1 1549.4 L1742.5 1551.5 M1744.3 1561.4 L1751.7 1601.7 L1752.3 1603.7 M1755.1 1613.4 L1761.3 1634.6 L1761.5 1634.9 M1766.8 1643.6 L1771.0 1650.6 L1780.6 1653.3 L1790.2 1646.4 L1798.5 1635.2 M1804.0 1626.7 L1809.4 1617.8 L1815.8 1607.3 M1821.3 1598.8 L1828.7 1588.2 L1838.3 1577.4 L1847.9 1570.3 L1852.2 1568.8 M1862.1 1567.2 L1867.2 1567.3 L1876.8 1570.6 L1882.8 1574.1 M1891.1 1579.6 L1896.0 1583.3 L1905.6 1591.5 L1915.3 1599.9 L1923.6 1607.2 M1931.4 1613.5 L1934.5 1616.1 L1944.1 1623.1 L1949.4 1626.5 M1958.0 1631.5 L1963.4 1634.4 L1973.0 1638.6 L1982.6 1642.0 L1992.2 1644.5 L1998.0 1645.6 M2007.9 1647.2 L2011.5 1647.6 L2021.1 1648.5 L2030.0 1649.0 M2040.0 1649.3 L2040.3 1649.3 L2049.9 1649.4 L2059.6 1649.5 L2069.2 1649.5 L2078.8 1649.5" fill="none" stroke="#0000ff" stroke-width="12.5" stroke-linejoin="round" stroke-linecap="butt"/>
<path d="M347.2 1594.2 L356.8 1594.2 L366.4 1594.2 L376.1 1594.3 L385.7 1594.3 L390.1 1594.4 M432.5 1597.0 L433.8 1597.1 L443.4 1598.6 L453.0 1600.6 L462.6 1603.1 L472.3 1606.3 L474.1 1607.0 M511.7 1626.4 L520.4 1632.1 L530.0 1638.8 L539.6 1645.7 L547.0 1650.7 M585.9 1665.9 L587.7 1666.0 L597.3 1663.1 L606.9 1656.3 L616.6 1644.8 L618.9 1640.8 M636.8 1602.3 L645.4 1576.1 L649.6 1560.6 M660.0 1518.9 L664.7 1498.3 L669.0 1476.5 M677.0 1434.7 L683.9 1395.4 L684.4 1392.6 M691.1 1350.8 L693.5 1335.8 L697.6 1308.6 M703.8 1266.8 L709.9 1224.5 M715.7 1182.6 L721.5 1140.3 M727.1 1098.4 L732.0 1061.6 L732.7 1056.0 M738.3 1014.1 L741.6 988.5 L743.8 971.7 M749.3 929.8 L751.2 915.2 L754.9 887.4 M760.4 845.5 L760.9 842.2 L766.1 803.2 M771.7 761.3 L777.5 718.9 M783.4 677.1 L789.4 634.8 M795.8 593.0 L799.3 569.5 L802.5 550.8 M809.6 509.1 L817.9 467.2 M828.5 426.3 L837.8 405.0 L847.4 401.3 L851.9 409.2 M864.4 449.2 L866.7 458.9 L871.5 491.2 M877.4 533.0 L882.2 575.5 M886.7 617.5 L890.6 660.0 M894.4 702.1 L895.5 714.5 L898.0 744.7 M901.4 786.7 L904.8 829.3 M908.0 871.4 L911.3 914.1 M914.5 956.2 L914.8 959.8 L917.8 998.8 M921.0 1040.9 L924.3 1083.5 M927.7 1125.6 L931.2 1168.2 M934.7 1210.2 L938.7 1252.8 M942.7 1294.8 L943.6 1305.3 L947.3 1337.3 M952.2 1379.2 L953.3 1388.6 L958.4 1421.5 M965.7 1463.0 L972.5 1492.8 L976.8 1504.2 M998.1 1539.9 L1001.4 1543.3 L1011.0 1553.4 L1020.6 1566.5 L1024.8 1573.5 M1051.8 1600.8 L1059.1 1593.2 L1067.7 1561.9 M1074.3 1520.2 L1078.3 1492.6 L1079.8 1477.8 M1083.9 1435.7 L1087.9 1394.2 L1088.0 1393.1 M1091.2 1351.0 L1094.4 1308.3 M1097.6 1266.2 L1097.6 1266.1 L1100.3 1223.5 M1103.0 1181.3 L1105.8 1138.6 M1108.4 1096.5 L1111.0 1053.8 M1113.6 1011.6 L1116.2 968.9 M1118.8 926.7 L1121.5 884.0 M1124.2 841.9 L1126.4 806.4 L1126.9 799.2 M1130.0 757.0 L1133.1 714.4 M1136.2 672.2 L1140.3 629.6 M1144.3 587.6 L1145.7 573.7 L1150.0 545.2 M1157.8 503.7 L1164.9 484.3 L1174.5 488.7 L1178.7 499.2 M1192.5 538.9 L1193.8 542.7 L1203.4 566.7 L1213.0 575.7 L1214.2 574.6 M1234.3 536.3 L1241.9 512.6 L1248.5 496.1 M1269.2 506.3 L1270.7 510.5 L1276.5 548.2 M1281.9 590.0 L1286.0 632.6 M1290.0 674.6 L1293.1 717.3 M1296.2 759.4 L1299.3 802.1 M1302.0 844.3 L1304.7 887.0 M1307.3 929.1 L1309.2 958.6 L1310.0 971.8 M1312.6 1014.0 L1315.2 1056.7 M1317.7 1098.9 L1318.8 1116.7 L1320.4 1141.5 M1323.1 1183.7 L1325.9 1226.4 M1328.6 1268.6 L1331.8 1311.2 M1335.0 1353.3 L1338.1 1394.2 L1338.2 1396.0 M1342.3 1438.1 L1346.5 1480.6 M1352.1 1522.7 L1357.3 1558.3 L1359.2 1565.0 M1376.3 1603.0 L1376.5 1603.2 L1386.2 1596.8 L1395.8 1582.3 L1402.7 1570.9 M1429.3 1538.5 L1434.3 1533.3 L1443.9 1518.5 L1450.1 1501.9 M1460.8 1461.0 L1463.1 1450.7 L1468.1 1418.8 M1474.1 1376.9 L1479.0 1334.4 M1483.6 1292.3 L1487.6 1249.7 M1491.5 1207.6 L1492.0 1202.8 L1495.1 1164.9 M1498.5 1122.8 L1501.6 1085.4 L1502.0 1080.1 M1505.2 1038.0 L1508.5 995.3 M1511.7 953.1 L1515.0 910.5 M1518.2 868.3 L1520.8 833.7 L1521.5 825.6 M1524.9 783.5 L1528.3 740.8 M1531.9 698.7 L1535.8 656.1 M1539.6 613.9 L1540.1 609.2 L1544.3 571.4 M1549.0 529.3 L1549.7 522.9 L1555.1 487.0 M1562.5 445.7 L1568.9 418.6 L1575.5 406.7 M1597.6 426.6 L1597.8 427.0 L1607.4 463.9 L1608.2 468.0 M1616.5 509.5 L1617.0 512.4 L1623.7 551.6 M1630.3 593.3 L1636.3 632.7 L1636.7 635.6 M1642.7 677.5 L1645.9 700.1 L1648.6 719.8 M1654.3 761.7 L1655.5 770.3 L1660.0 804.1 M1665.6 845.9 L1671.2 888.3 M1676.7 930.2 L1682.3 972.6 M1687.8 1014.5 L1693.4 1056.9 M1699.0 1098.8 L1703.6 1133.7 L1704.6 1141.2 M1710.4 1183.1 L1713.2 1204.0 L1716.3 1225.4 M1722.2 1267.3 L1722.9 1271.7 L1728.5 1309.6 M1735.0 1351.3 L1741.8 1393.5 M1749.1 1435.2 L1751.7 1449.8 L1757.1 1477.2 M1766.0 1518.8 L1771.0 1540.5 L1776.5 1560.8 M1789.1 1601.9 L1790.2 1605.2 L1799.8 1627.9 L1807.4 1641.3 M1841.0 1665.9 L1847.9 1665.6 L1857.5 1662.8 L1867.2 1658.1 L1876.8 1652.2 L1879.9 1650.1 M1914.7 1626.1 L1915.3 1625.7 L1924.9 1619.9 L1934.5 1614.6 L1944.1 1610.1 L1952.7 1606.7 M1993.7 1597.0 L2001.8 1596.0 L2011.5 1595.3 L2021.1 1594.8 L2030.7 1594.5 L2036.4 1594.4 M2078.6 1594.2 L2078.8 1594.2" fill="none" stroke="#00ff00" stroke-width="12.5" stroke-linejoin="round" stroke-linecap="butt"/>
<path d="M347.2 1666.0 L356.8 1666.0 L366.4 1666.0 L376.1 1666.0 L385.7 1666.0 L390.0 1666.0 M432.3 1666.0 L433.8 1666.0 L443.4 1666.0 L453.0 1666.0 L462.6 1666.0 L472.3 1666.0 L475.0 1666.0 M517.3 1666.0 L520.4 1666.0 L530.0 1666.0 L539.6 1666.0 L549.2 1666.0 L558.8 1666.0 L560.1 1666.0 M602.4 1666.0 L606.9 1666.0 L616.6 1666.0 L626.2 1666.0 L635.8 1666.0 L645.2 1666.0 M687.4 1666.0 L693.5 1666.0 L703.1 1666.0 L712.8 1666.0 L722.4 1666.0 L722.5 1658.2 M722.9 1615.9 L723.3 1573.1 M723.7 1530.8 L724.1 1488.1 M724.5 1445.8 L724.9 1403.0 M725.3 1360.7 L725.7 1317.9 M726.1 1275.7 L726.5 1232.9 M726.9 1190.6 L727.3 1147.8 M727.7 1105.6 L728.1 1062.8 M728.5 1020.5 L728.9 977.7 M729.3 935.4 L729.7 892.7 M730.1 850.4 L730.5 807.6 M730.9 765.3 L731.4 722.6 M731.8 680.3 L732.0 654.7 L741.6 654.7 L749.2 654.7 M791.5 654.7 L799.3 654.7 L809.0 654.7 L818.6 654.7 L828.2 654.7 L834.2 654.7 M876.5 654.7 L885.9 654.7 L895.5 654.7 L905.2 654.7 L914.8 654.7 L919.3 654.7 M924.8 691.8 L925.2 734.6 M925.6 776.9 L926.0 819.7 M926.4 861.9 L926.8 904.7 M927.2 947.0 L927.6 989.8 M928.0 1032.1 L928.4 1074.8 M928.8 1117.1 L929.2 1159.9 M929.6 1202.2 L930.0 1244.9 M930.4 1287.2 L930.8 1330.0 M931.2 1372.3 L931.6 1415.1 M932.0 1457.3 L932.4 1500.1 M932.8 1542.4 L933.3 1585.2 M933.7 1627.4 L934.0 1666.0 L938.2 1666.0 M980.5 1666.0 L982.1 1666.0 L991.7 1666.0 L1001.4 1666.0 L1011.0 1666.0 L1020.6 1666.0 L1023.3 1666.0 M1065.6 1666.0 L1068.7 1666.0 L1078.3 1666.0 L1087.9 1666.0 L1097.6 1666.0 L1107.2 1666.0 L1107.2 1664.8 M1107.6 1622.5 L1108.0 1579.8 M1108.4 1537.5 L1108.8 1494.7 M1109.2 1452.4 L1109.6 1409.6 M1110.0 1367.4 L1110.4 1324.6 M1110.8 1282.3 L1111.2 1239.5 M1111.6 1197.3 L1112.0 1154.5 M1112.4 1112.2 L1112.9 1069.4 M1113.3 1027.1 L1113.7 984.4 M1114.1 942.1 L1114.5 899.3 M1114.9 857.0 L1115.3 814.3 M1115.7 772.0 L1116.1 729.2 M1116.5 686.9 L1116.8 654.7 L1126.4 654.7 L1127.3 654.7 M1169.6 654.7 L1174.5 654.7 L1184.1 654.7 L1193.8 654.7 L1203.4 654.7 L1212.4 654.7 M1254.7 654.7 L1261.1 654.7 L1270.7 654.7 L1280.3 654.7 L1290.0 654.7 L1297.4 654.7 M1309.5 685.2 L1309.9 728.0 M1310.3 770.2 L1310.7 813.0 M1311.1 855.3 L1311.5 898.1 M1311.9 940.4 L1312.3 983.1 M1312.7 1025.4 L1313.1 1068.2 M1313.5 1110.5 L1313.9 1153.2 M1314.3 1195.5 L1314.8 1238.3 M1315.2 1280.6 L1315.6 1323.4 M1316.0 1365.6 L1316.4 1408.4 M1316.8 1450.7 L1317.2 1493.5 M1317.6 1535.7 L1318.0 1578.5 M1318.4 1620.8 L1318.8 1663.6 M1358.7 1666.0 L1366.9 1666.0 L1376.5 1666.0 L1386.2 1666.0 L1395.8 1666.0 L1401.5 1666.0 M1443.7 1666.0 L1443.9 1666.0 L1453.5 1666.0 L1463.1 1666.0 L1472.7 1666.0 L1482.4 1666.0 L1486.5 1666.0 M1492.3 1629.2 L1492.7 1586.4 M1493.1 1544.1 L1493.5 1501.4 M1493.9 1459.1 L1494.4 1416.3 M1494.8 1374.0 L1495.2 1331.2 M1495.6 1289.0 L1496.0 1246.2 M1496.4 1203.9 L1496.8 1161.1 M1497.2 1118.9 L1497.6 1076.1 M1498.0 1033.8 L1498.4 991.0 M1498.8 948.7 L1499.2 906.0 M1499.6 863.7 L1500.0 820.9 M1500.4 778.6 L1500.8 735.9 M1501.2 693.6 L1501.6 654.7 L1505.5 654.7 M1547.7 654.7 L1549.7 654.7 L1559.3 654.7 L1568.9 654.7 L1578.6 654.7 L1588.2 654.7 L1590.5 654.7 M1632.8 654.7 L1636.3 654.7 L1645.9 654.7 L1655.5 654.7 L1665.1 654.7 L1674.8 654.7 L1675.6 654.7 M1694.2 678.5 L1694.6 721.3 M1695.0 763.6 L1695.4 806.4 M1695.8 848.6 L1696.3 891.4 M1696.7 933.7 L1697.1 976.5 M1697.5 1018.8 L1697.9 1061.5 M1698.3 1103.8 L1698.7 1146.6 M1699.1 1188.9 L1699.5 1231.6 M1699.9 1273.9 L1700.3 1316.7 M1700.7 1359.0 L1701.1 1401.8 M1701.5 1444.0 L1701.9 1486.8 M1702.3 1529.1 L1702.7 1571.9 M1703.1 1614.1 L1703.5 1656.9 M1736.8 1666.0 L1742.1 1666.0 L1751.7 1666.0 L1761.3 1666.0 L1771.0 1666.0 L1779.6 1666.0 M1821.9 1666.0 L1828.7 1666.0 L1838.3 1666.0 L1847.9 1666.0 L1857.5 1666.0 L1864.7 1666.0 M1906.9 1666.0 L1915.3 1666.0 L1924.9 1666.0 L1934.5 1666.0 L1944.1 1666.0 L1949.7 1666.0 M1992.0 1666.0 L1992.2 1666.0 L2001.8 1666.0 L2011.5 1666.0 L2021.1 1666.0 L2030.7 1666.0 L2034.8 1666.0 M2077.1 1666.0 L2078.8 1666.0" fill="none" stroke="#000000" stroke-width="12.5" stroke-linejoin="round" stroke-linecap="butt"/>
</g>
<rect x="347.0" y="1550.0" width="193.0" height="110.0" fill="none" stroke="#000" stroke-width="3.8"/>
<rect x="1885.0" y="1552.0" width="193.0" height="110.0" fill="none" stroke="#000" stroke-width="3.8"/>
<g id="inset-L" shape-rendering="crispEdges">
<rect x="364.0" y="851.0" width="486.0" height="500.0" fill="#fff"/>
<path d="M364.00 1351.0 V1344.0 M364.00 851.0 V858.0 M607.00 1351.0 V1344.0 M607.00 851.0 V858.0 M850.00 1351.0 V1344.0 M850.00 851.0 V858.0 M364.0 1351.00 H371.0 M850.0 1351.00 H843.0 M364.0 1101.00 H371.0 M850.0 1101.00 H843.0 M364.0 851.00 H371.0 M850.0 851.00 H843.0" stroke="#262626" stroke-width="4" fill="none"/><rect x="364.0" y="851.0" width="486.0" height="500.0" fill="none" stroke="#262626" stroke-width="4"/>
<polyline points="364.00,1273.74 388.30,1273.73 412.60,1273.72 436.90,1273.66 461.20,1273.49 485.50,1273.15 509.80,1272.51 534.10,1271.47 558.40,1269.88 582.70,1267.57 607.00,1264.35 631.30,1260.03 655.60,1254.39 679.90,1247.20 704.20,1238.26 728.50,1227.37 752.80,1214.39 777.10,1199.29 801.40,1182.16 825.70,1163.32 850.00,1143.37" fill="none" stroke="#ff0000" stroke-width="12.5" stroke-linejoin="round" stroke-linecap="butt"/>
<path d="M364.0 1217.2 L375.0 1217.2 M384.3 1217.3 L388.3 1217.3 L396.3 1217.3 M405.6 1217.4 L412.6 1217.4 L417.6 1217.4 M426.8 1217.5 L436.9 1217.6 L438.8 1217.6 M448.1 1217.8 L460.1 1217.9 M469.4 1218.1 L481.4 1218.3 M490.7 1218.5 L502.7 1218.7 M511.9 1218.9 L523.9 1219.2 M533.2 1219.4 L534.1 1219.4 L545.2 1219.7 M554.5 1220.0 L558.4 1220.1 L566.5 1220.3 M575.8 1220.6 L582.7 1220.7 L587.8 1220.9 M597.0 1221.1 L607.0 1221.3 L609.0 1221.3 M618.3 1221.4 L630.3 1221.5 M639.6 1221.4 L651.6 1221.3 M660.9 1220.9 L672.8 1220.2 M682.1 1219.6 L694.0 1218.1 M703.2 1216.9 L704.2 1216.8 L714.9 1214.4 M724.0 1212.4 L728.5 1211.4 L735.4 1208.8 M744.1 1205.6 L752.8 1202.5 L755.2 1201.1 M763.4 1196.6 L773.9 1190.8 M781.5 1185.6 L790.9 1178.2 M798.2 1172.4 L801.4 1169.9 L806.8 1164.1 M813.2 1157.4 L821.4 1148.7 M827.5 1141.7 L834.6 1132.0 M840.1 1124.5 L847.2 1114.8" fill="none" stroke="#ff00ff" stroke-width="12.5" stroke-linejoin="round" stroke-linecap="butt"/>
<path d="M364.0 1269.4 L388.3 1269.4 L406.7 1269.3 M416.7 1269.3 L436.9 1269.1 L439.0 1269.0 M449.0 1268.7 L461.2 1268.4 L485.5 1267.0 L491.7 1266.3 M501.6 1265.3 L509.8 1264.4 L523.6 1262.0 M533.5 1260.3 L534.1 1260.2 L558.4 1253.8 L574.3 1247.8 M583.6 1244.2 L603.4 1234.0 M611.9 1228.8 L631.3 1215.7 L646.0 1203.1 M653.6 1196.6 L655.6 1194.8 L669.1 1180.7 M676.0 1173.4 L679.9 1169.3 L703.1 1140.4 M708.9 1132.2 L721.6 1114.0 M727.3 1105.8 L728.5 1104.1 L750.2 1069.7 M755.4 1061.1 L766.7 1042.0 M771.8 1033.4 L777.1 1024.4 L793.3 996.4 M798.3 987.8 L801.4 982.5 L809.8 968.7 M814.9 960.1 L825.7 942.3 L838.1 924.2 M843.7 915.9 L850.0 906.7" fill="none" stroke="#0000ff" stroke-width="12.5" stroke-linejoin="round" stroke-linecap="butt"/>
<path d="M364.0 996.2 L388.3 996.2 L406.7 996.2 M449.0 996.6 L461.2 996.7 L485.5 997.6 L491.7 997.9 M533.8 1001.4 L534.1 1001.5 L558.4 1005.2 L575.9 1009.0 M616.2 1021.5 L631.3 1027.6 L654.8 1039.7 M689.7 1063.4 L704.2 1074.6 L722.1 1091.2 M751.5 1121.5 L752.8 1122.9 L777.1 1151.9 L779.0 1154.3 M804.6 1187.9 L825.7 1216.7 L829.8 1222.4" fill="none" stroke="#00ff00" stroke-width="12.5" stroke-linejoin="round" stroke-linecap="butt"/>
<path d="M364.0 1351.0 L388.3 1351.0 L406.8 1351.0 M449.0 1351.0 L461.2 1351.0 L485.5 1351.0 L491.8 1351.0 M534.0 1351.0 L534.1 1351.0 L558.4 1351.0 L576.8 1351.0 M619.0 1351.0 L631.3 1351.0 L655.6 1351.0 L661.8 1351.0 M704.0 1351.0 L704.2 1351.0 L728.5 1351.0 L746.8 1351.0 M789.0 1351.0 L801.4 1351.0 L825.7 1351.0 L831.8 1351.0" fill="none" stroke="#000000" stroke-width="12.5" stroke-linejoin="round" stroke-linecap="butt"/>
<text transform="translate(362.50 1410.30) scale(1 1.045)" font-size="46.7" fill="#262626" text-anchor="middle">-90</text>
<text transform="translate(605.50 1410.30) scale(1 1.045)" font-size="46.7" fill="#262626" text-anchor="middle">-80</text>
<text transform="translate(848.50 1410.30) scale(1 1.045)" font-size="46.7" fill="#262626" text-anchor="middle">-70</text>
<text transform="translate(351.70 1370.30) scale(1 1.045)" font-size="46.7" fill="#262626" text-anchor="end">0</text>
<text transform="translate(351.70 1120.30) scale(1 1.045)" font-size="46.7" fill="#262626" text-anchor="end">0.05</text>
<text transform="translate(351.70 870.30) scale(1 1.045)" font-size="46.7" fill="#262626" text-anchor="end">0.1</text>
</g>
<g id="inset-R" shape-rendering="crispEdges">
<rect x="1640.0" y="869.0" width="489.0" height="499.0" fill="#fff"/>
<path d="M1640.00 1368.0 V1361.0 M1640.00 869.0 V876.0 M1884.50 1368.0 V1361.0 M1884.50 869.0 V876.0 M2129.00 1368.0 V1361.0 M2129.00 869.0 V876.0 M1640.0 1368.00 H1647.0 M2129.0 1368.00 H2122.0 M1640.0 1118.50 H1647.0 M2129.0 1118.50 H2122.0 M1640.0 869.00 H1647.0 M2129.0 869.00 H2122.0" stroke="#262626" stroke-width="4" fill="none"/><rect x="1640.0" y="869.0" width="489.0" height="499.0" fill="none" stroke="#262626" stroke-width="4"/>
<polyline points="1640.00,1160.78 1664.45,1180.70 1688.90,1199.50 1713.35,1216.59 1737.80,1231.66 1762.25,1244.61 1786.70,1255.48 1811.15,1264.41 1835.60,1271.58 1860.05,1277.21 1884.50,1281.53 1908.95,1284.74 1933.40,1287.04 1957.85,1288.63 1982.30,1289.67 2006.75,1290.30 2031.20,1290.65 2055.65,1290.81 2080.10,1290.87 2104.55,1290.89 2129.00,1290.89" fill="none" stroke="#ff0000" stroke-width="12.5" stroke-linejoin="round" stroke-linecap="butt"/>
<path d="M1640.0 1101.6 L1646.3 1110.7 M1651.6 1118.2 L1658.5 1128.1 M1663.9 1135.7 L1664.5 1136.5 L1671.7 1144.7 M1677.9 1151.7 L1685.9 1160.6 M1692.5 1167.1 L1701.6 1174.9 M1708.6 1181.0 L1713.3 1185.0 L1718.3 1188.1 M1726.1 1193.0 L1736.3 1199.4 M1744.7 1203.3 L1755.6 1208.2 M1764.2 1211.7 L1775.7 1215.2 M1784.6 1217.8 L1786.7 1218.5 L1796.3 1220.4 M1805.4 1222.2 L1811.2 1223.4 L1817.2 1224.2 M1826.4 1225.4 L1835.6 1226.6 L1838.3 1226.8 M1847.6 1227.6 L1859.5 1228.7 M1868.8 1229.2 L1880.8 1229.9 M1890.1 1230.4 L1902.0 1230.8 M1911.3 1231.2 L1923.3 1231.6 M1932.6 1231.9 L1933.4 1231.9 L1944.6 1232.2 M1953.9 1232.4 L1957.8 1232.5 L1965.9 1232.7 M1975.1 1232.9 L1982.3 1233.0 L1987.1 1233.1 M1996.4 1233.3 L2006.8 1233.5 L2008.4 1233.5 M2017.7 1233.6 L2029.7 1233.8 M2039.0 1233.9 L2051.0 1234.1 M2060.3 1234.2 L2072.3 1234.3 M2081.5 1234.3 L2093.5 1234.4 M2102.8 1234.4 L2104.6 1234.5 L2114.8 1234.5 M2124.1 1234.5 L2129.0 1234.5" fill="none" stroke="#ff00ff" stroke-width="12.5" stroke-linejoin="round" stroke-linecap="butt"/>
<path d="M1640.0 924.6 L1664.2 959.8 M1669.5 968.4 L1681.0 987.4 M1686.3 995.9 L1688.9 1000.3 L1707.9 1032.8 M1713.0 1041.4 L1713.3 1042.0 L1724.4 1060.5 M1729.5 1069.1 L1737.8 1083.1 L1752.0 1105.4 M1757.3 1113.9 L1762.2 1121.6 L1769.8 1132.3 M1775.5 1140.5 L1786.7 1156.4 L1801.4 1174.5 M1807.7 1182.3 L1811.2 1186.6 L1822.7 1198.7 M1829.6 1205.9 L1835.6 1212.2 L1860.0 1233.0 L1861.7 1234.1 M1870.0 1239.7 L1884.5 1249.4 L1888.8 1251.6 M1897.7 1256.1 L1909.0 1261.9 L1933.4 1271.0 L1937.3 1272.0 M1946.9 1274.5 L1957.8 1277.4 L1968.7 1279.2 M1978.5 1280.9 L1982.3 1281.6 L2006.8 1284.1 L2021.1 1285.0 M2031.0 1285.5 L2031.2 1285.5 L2053.3 1286.2 M2063.3 1286.3 L2080.1 1286.5 L2104.6 1286.5 L2106.0 1286.5 M2116.0 1286.5 L2129.0 1286.5" fill="none" stroke="#0000ff" stroke-width="12.5" stroke-linejoin="round" stroke-linecap="butt"/>
<path d="M1640.0 1267.6 L1664.5 1234.0 L1665.1 1233.1 M1690.2 1199.1 L1713.3 1169.3 L1716.6 1165.4 M1744.3 1133.5 L1762.2 1114.6 L1774.5 1103.3 M1807.1 1076.4 L1811.2 1073.3 L1835.6 1057.7 L1843.2 1053.8 M1881.8 1036.6 L1884.5 1035.5 L1909.0 1028.2 L1922.9 1025.1 M1964.6 1018.5 L1982.3 1016.7 L2006.8 1015.3 L2007.2 1015.3 M2049.5 1014.2 L2055.7 1014.1 L2080.1 1013.9 L2092.2 1013.9" fill="none" stroke="#00ff00" stroke-width="12.5" stroke-linejoin="round" stroke-linecap="butt"/>
<path d="M1640.0 1368.0 L1664.5 1368.0 L1682.8 1368.0 M1725.0 1368.0 L1737.8 1368.0 L1762.2 1368.0 L1767.8 1368.0 M1810.0 1368.0 L1811.2 1368.0 L1835.6 1368.0 L1852.8 1368.0 M1895.0 1368.0 L1909.0 1368.0 L1933.4 1368.0 L1937.8 1368.0 M1980.0 1368.0 L1982.3 1368.0 L2006.8 1368.0 L2022.8 1368.0 M2065.0 1368.0 L2080.1 1368.0 L2104.6 1368.0 L2107.8 1368.0" fill="none" stroke="#000000" stroke-width="12.5" stroke-linejoin="round" stroke-linecap="butt"/>
<text transform="translate(1638.50 1427.30) scale(1 1.045)" font-size="46.7" fill="#262626" text-anchor="middle">70</text>
<text transform="translate(1883.00 1427.30) scale(1 1.045)" font-size="46.7" fill="#262626" text-anchor="middle">80</text>
<text transform="translate(2127.50 1427.30) scale(1 1.045)" font-size="46.7" fill="#262626" text-anchor="middle">90</text>
<text transform="translate(1627.70 1387.30) scale(1 1.045)" font-size="46.7" fill="#262626" text-anchor="end">0</text>
<text transform="translate(1627.70 1137.80) scale(1 1.045)" font-size="46.7" fill="#262626" text-anchor="end">0.05</text>
<text transform="translate(1627.70 888.30) scale(1 1.045)" font-size="46.7" fill="#262626" text-anchor="end">0.1</text>
</g>
<g id="arrows" shape-rendering="crispEdges">
<line x1="347.0" y1="1550.0" x2="824.1" y2="886.8" stroke="#000" stroke-width="4.4"/><polygon points="849.5,851.5 831.4,916.1 822.9,888.4 794.0,889.2" fill="#000"/>
<line x1="540.0" y1="1556.0" x2="813.0" y2="1371.4" stroke="#000" stroke-width="4.4"/><polygon points="849.0,1347.0 809.7,1401.3 811.3,1372.5 783.9,1363.2" fill="#000"/>
<line x1="2078.0" y1="1551.0" x2="1664.0" y2="905.1" stroke="#000" stroke-width="4.4"/><polygon points="1640.5,868.5 1693.9,909.1 1665.1,906.8 1655.1,934.0" fill="#000"/>
<line x1="1885.0" y1="1553.0" x2="1675.6" y2="1393.4" stroke="#000" stroke-width="4.4"/><polygon points="1641.0,1367.0 1705.0,1386.9 1677.2,1394.6 1677.2,1423.5" fill="#000"/>
</g>
<g id="legend">
<rect x="1743.0" y="18.0" width="507.0" height="383.0" fill="#fff" stroke="#262626" stroke-width="4"/>
<line x1="1776" y1="63.5" x2="1955" y2="63.5" stroke="#ff0000" stroke-width="12.5"/>
<text transform="translate(1966.90 83.20) scale(1 1.045)" font-size="47.4" fill="#000">N=20,M=10</text>
<line x1="1776" y1="136.5" x2="1955" y2="136.5" stroke="#ff00ff" stroke-width="12.5" stroke-dasharray="12 9.25"/>
<text transform="translate(1966.90 156.20) scale(1 1.045)" font-size="47.4" fill="#000">N=15,M=10</text>
<line x1="1776" y1="209.5" x2="1955" y2="209.5" stroke="#0000ff" stroke-width="12.5" stroke-dasharray="44 9 23 9"/>
<text transform="translate(1966.90 229.20) scale(1 1.045)" font-size="47.4" fill="#000">N=13,M=10</text>
<line x1="1776" y1="282.5" x2="1955" y2="282.5" stroke="#00ff00" stroke-width="12.5" stroke-dasharray="44 41"/>
<text transform="translate(1966.90 302.20) scale(1 1.045)" font-size="47.4" fill="#000">N=10,M=10</text>
<line x1="1776" y1="355.5" x2="1955" y2="355.5" stroke="#000000" stroke-width="12.5" stroke-dasharray="44 41"/>
<text transform="translate(1966.90 375.20) scale(1 1.045)" font-size="47.4" fill="#000">Desired</text>
</g>
<g id="xlabel" aria-label="θ(°)">
<text transform="translate(1157.30 1837.00) scale(0.9 1.045)" font-size="64.2" fill="#262626" font-style="italic">θ</text>
<text transform="translate(1189.70 1837.00) scale(1 1.045)" font-size="64.2" fill="#262626">(</text>
<text transform="translate(1221.80 1840.30) scale(1 1)" font-size="64" fill="#262626">°</text>
<text transform="translate(1242.00 1837.00) scale(1 1.045)" font-size="64.2" fill="#262626">)</text>
</g>
<g id="ylabel" aria-label="p_p(θ_r,p,s)" transform="translate(0 1056.0) rotate(-90)">
<text transform="translate(3.00 77.00) scale(1 1.045)" font-size="64.2" fill="#262626" font-style="italic">p</text>
<text transform="translate(41.00 109.00) scale(1 1.045)" font-size="51.4" fill="#262626" font-style="italic">p</text>
<text transform="translate(70.00 77.00) scale(1 1.045)" font-size="64.2" fill="#262626">(</text>
<text transform="translate(94.50 77.00) scale(0.9 1.045)" font-size="64.2" fill="#262626" font-style="italic">θ</text>
<text transform="translate(130.00 109.00) scale(1 1.045)" font-size="51.4" fill="#262626" font-style="italic">r</text>
<text transform="translate(144.50 77.00) scale(1 1.045)" font-size="64.2" fill="#262626">,</text>
<text transform="translate(165.50 77.00) scale(1 1.045)" font-size="64.2" fill="#262626" font-weight="bold">p</text>
<text transform="translate(208.00 77.00) scale(1 1.045)" font-size="64.2" fill="#262626">,</text>
<text transform="translate(230.50 77.00) scale(1 1.045)" font-size="64.2" fill="#262626" font-weight="bold">s</text>
<text transform="translate(269.70 77.00) scale(1 1.045)" font-size="64.2" fill="#262626">)</text>
</g>
</svg></body></html>
